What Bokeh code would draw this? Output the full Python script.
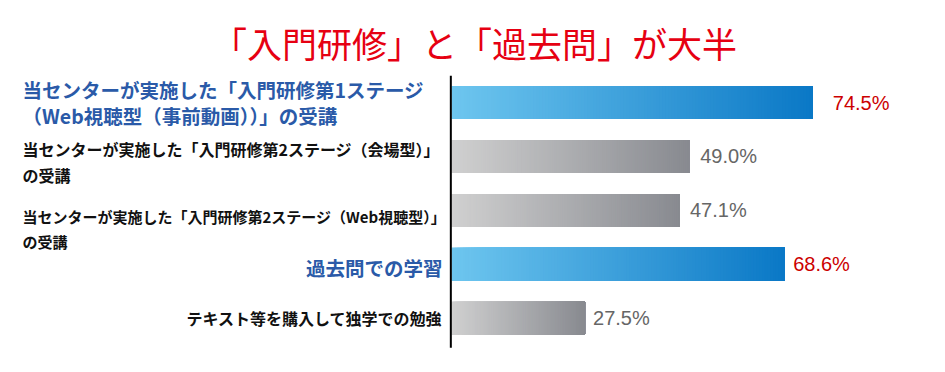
from bokeh.plotting import figure
from bokeh.models import Range1d, ColumnDataSource
from bokeh.core.properties import value
from bokeh.embed import file_html
from bokeh.resources import INLINE

# ---------------- data ----------------
title_text = "「入門研修」と「過去問」が大半"
categories = [
    "当センターが実施した「入門研修第1ステージ\n（Web視聴型（事前動画））」の受講",
    "当センターが実施した「入門研修第2ステージ（会場型）」\nの受講",
    "当センターが実施した「入門研修第2ステージ（Web視聴型）」\nの受講",
    "過去問での学習",
    "テキスト等を購入して独学での勉強",
]
values = [74.5, 49.0, 47.1, 68.6, 27.5]
value_labels = ["74.5%", "49.0%", "47.1%", "68.6%", "27.5%"]
highlight = [True, False, False, True, False]

# ---------------- styles ----------------
W, H = 945, 372
ORIGIN_X = 451.3          # screen x of value 0
PX_PER_UNIT = 4.845       # screen px per percent
ROW0_Y = 102.1            # screen y of first row centre
ROW_PX = 53.89            # screen px per row
BAR_PX = 33

BLUE_GRAD = ((0x6E, 0xC6, 0xEF), (0x0A, 0x78, 0xC6))
GRAY_GRAD = ((0xD0, 0xD0, 0xD0), (0x88, 0x8A, 0x90))
BLUE_TEXT = "#2a5aa8"
RED_TEXT = "#cc0000"
GRAY_TEXT = "#666666"
TITLE_RED = "#e60012"
JP_FONT = "Noto Sans CJK JP"

label_font_px = [19.5, 16, 15, 19.5, 16]
label_line_h = [0.885, 1.08, 1.2, 1.0, 1.0]
label_dy = [0, 5.5, 18.8, 3, 0]
value_gap = [20, 11, 10, 9, 8]

x_start = -ORIGIN_X / PX_PER_UNIT
x_end = (W - ORIGIN_X) / PX_PER_UNIT
y_top = -ROW0_Y / ROW_PX
y_bot = (H - ROW0_Y) / ROW_PX
bar_h = BAR_PX / ROW_PX

p = figure(width=W, height=H, output_backend="svg", toolbar_location=None,
           x_range=Range1d(x_start, x_end), y_range=Range1d(y_bot, y_top),
           min_border=0, min_border_left=0, min_border_right=0,
           min_border_top=0, min_border_bottom=0)
p.axis.visible = False
p.grid.visible = False
p.outline_line_color = None
p.background_fill_color = "white"
p.border_fill_color = "white"

n = len(values)
rows = list(range(n))


def hexcol(c):
    return "#%02x%02x%02x" % tuple(int(round(v)) for v in c)


# base bars (data marks)
mid_cols = []
for hi in highlight:
    a, b = BLUE_GRAD if hi else GRAY_GRAD
    mid_cols.append(hexcol([(x + y) / 2 for x, y in zip(a, b)]))
p.hbar(y=rows, left=0, right=values, height=bar_h, fill_color=mid_cols,
       line_color=None)

# gradient overlay, built from the same values
NSEG = 120
gl, gr, gt, gb, gc = [], [], [], [], []
for i, (v, hi) in enumerate(zip(values, highlight)):
    a, b = BLUE_GRAD if hi else GRAY_GRAD
    for k in range(NSEG):
        t = (k + 0.5) / NSEG
        gl.append(v * k / NSEG)
        gr.append(v)
        gt.append(i - bar_h / 2)
        gb.append(i + bar_h / 2)
        gc.append(hexcol([a[j] + (b[j] - a[j]) * t for j in range(3)]))
p.quad(left=gl, right=gr, top=gt, bottom=gb, fill_color=gc, line_color=None)

# vertical axis line
p.segment(x0=[-0.2], y0=[-0.5], x1=[-0.2], y1=[n - 1 + 0.55],
          line_color="black", line_width=2)

# category labels
LEFT_X = (22 - ORIGIN_X) / PX_PER_UNIT
RIGHT_X = (442 - ORIGIN_X) / PX_PER_UNIT
for i, (cat, hi) in enumerate(zip(categories, highlight)):
    multi = "\n" in cat
    p.text(x=[LEFT_X if multi else RIGHT_X], y=[i], text=[cat],
           text_align="left" if multi else "right", text_baseline="middle",
           y_offset=label_dy[i],
           text_font=value(JP_FONT), text_font_style="bold",
           text_font_size=f"{label_font_px[i]}px",
           text_line_height=label_line_h[i],
           text_color=BLUE_TEXT if hi else "#111111")

# value labels
src_v = ColumnDataSource(dict(
    x=values, y=rows, text=value_labels, gap=value_gap,
    color=[RED_TEXT if hi else GRAY_TEXT for hi in highlight]))
p.text(x="x", y="y", text="text", x_offset="gap", source=src_v,
       text_align="left", text_baseline="middle",
       text_font=value("Liberation Sans"), text_font_size="20px",
       text_color="color")

# title
p.text(x=[(474 - ORIGIN_X) / PX_PER_UNIT], y=[(42 - ROW0_Y) / ROW_PX],
       text=[title_text], text_align="center", text_baseline="middle",
       text_font=value(JP_FONT), text_font_size="35px",
       text_color=TITLE_RED)

open("out.html", "w").write(file_html(p, INLINE))
